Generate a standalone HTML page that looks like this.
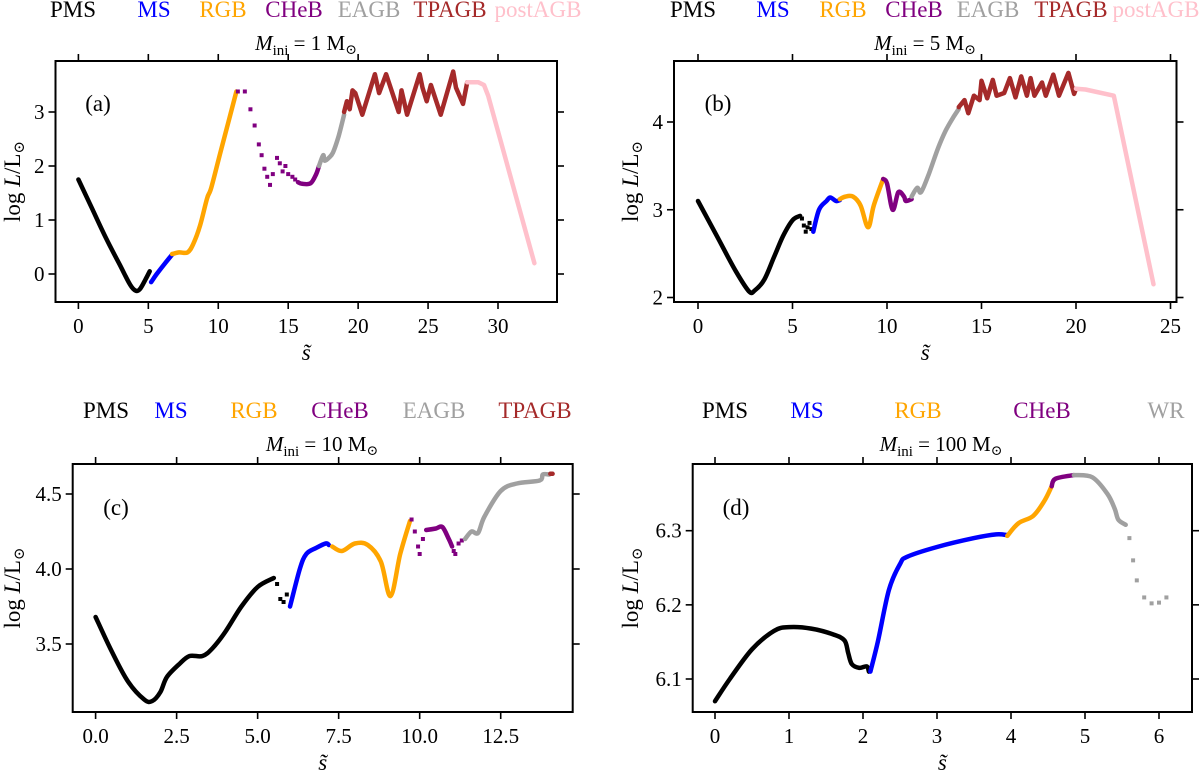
<!DOCTYPE html>
<html><head><meta charset="utf-8"><style>
html,body{margin:0;padding:0;background:#fff;}
svg, svg text{font-family:"Liberation Serif","DejaVu Serif",serif;}
</style></head><body>
<svg id="fig" width="1200" height="772" viewBox="0 0 1200 772" font-family="Liberation Serif, DejaVu Serif, serif" xmlns="http://www.w3.org/2000/svg"></svg>
<script>
// ---------- data ----------
const phaseNamesA = ["PMS","MS","RGB","CHeB","EAGB","TPAGB","postAGB"];
const phaseNamesC = ["PMS","MS","RGB","CHeB","EAGB","TPAGB"];
const phaseNamesD = ["PMS","MS","RGB","CHeB","WR"];
const xTicksA = [0,5,10,15,20,25,30];
const yTicksA = [0,1,2,3];
const xTicksB = [0,5,10,15,20,25];
const yTicksB = [2,3,4];
const xTicksC = [0,2.5,5,7.5,10,12.5];
const xTickLabelsC = ["0.0","2.5","5.0","7.5","10.0","12.5"];
const yTicksC = [3.5,4.0,4.5];
const yTickLabelsC = ["3.5","4.0","4.5"];
const xTicksD = [0,1,2,3,4,5,6];
const yTicksD = [6.1,6.2,6.3];

// panel a segments
const aPMS = [[0,1.75],[1,1.2],[2,0.65],[3,0.15],[3.7,-0.2],[4.1,-0.31],[4.4,-0.28],[4.8,-0.1],[5.1,0.05]];
const aMS = [[5.2,-0.15],[5.6,0.0],[6.2,0.2],[6.7,0.36]];
const aRGB = [[6.7,0.37],[7.2,0.4],[7.8,0.4],[8.2,0.55],[8.7,0.9],[9.2,1.4],[9.5,1.6],[10.2,2.3],[11.3,3.38]];
const aCHeBdots = [[11.4,3.38],[11.9,3.38],[12.3,3.05],[12.6,2.75],[12.9,2.4],[13.1,2.2],[13.3,1.95],[13.5,1.8],[13.7,1.65],[13.9,1.85],[14.2,2.15],[14.4,2.05],[14.6,1.9],[14.8,2.0],[15.0,1.85],[15.3,1.8],[15.5,1.75]];
const aCHeB = [[15.7,1.7],[16.0,1.67],[16.6,1.68],[17.0,1.85],[17.2,2.0]];
const aEAGB = [[17.2,2.0],[17.5,2.2],[17.6,2.1],[17.9,2.15],[18.2,2.25],[18.6,2.55],[19.0,2.95]];
const aTPAGB = [[19.0,3.0],[19.2,3.2],[19.4,3.05],[19.6,3.4],[19.8,3.35],[20.3,2.95],[21.2,3.7],[21.5,3.35],[22.0,3.7],[22.9,3.0],[23.1,3.4],[23.5,2.95],[24.4,3.7],[24.6,3.45],[24.9,3.2],[25.2,3.5],[25.9,2.95],[26.8,3.75],[27.0,3.45],[27.5,3.15],[27.8,3.55]];
const aPost = [[27.8,3.55],[28.6,3.55],[29.0,3.5],[29.3,3.3],[32.6,0.2]];

// panel b
const bPMS = [[0,3.1],[1,2.7],[2,2.3],[2.7,2.07],[3.0,2.08],[3.5,2.2],[4,2.45],[4.5,2.7],[5,2.88],[5.4,2.93]];
const bPMSdots = [[5.5,2.9],[5.6,2.82],[5.7,2.75],[5.8,2.8],[5.9,2.85],[6.0,2.78]];
const bMS = [[6.1,2.75],[6.4,3.0],[6.8,3.1],[7.0,3.14],[7.3,3.1],[7.5,3.11]];
const bRGB = [[7.5,3.12],[7.8,3.15],[8.2,3.15],[8.6,3.05],[9.0,2.8],[9.3,3.05],[9.8,3.35]];
const bCHeB = [[9.8,3.35],[10.0,3.3],[10.3,3.0],[10.6,3.2],[10.9,3.15],[11.0,3.1],[11.3,3.12]];
const bEAGB = [[11.3,3.15],[11.6,3.25],[11.8,3.2],[12.2,3.4],[12.7,3.7],[13.1,3.9],[13.5,4.05],[13.8,4.15]];
const bTPAGB = [[13.8,4.17],[14.1,4.25],[14.3,4.1],[14.6,4.3],[14.9,4.25],[15.0,4.47],[15.3,4.27],[15.6,4.48],[15.8,4.3],[16.2,4.33],[16.5,4.5],[16.8,4.28],[17.1,4.52],[17.4,4.3],[17.6,4.5],[17.8,4.3],[18.2,4.45],[18.4,4.3],[18.8,4.54],[19.1,4.3],[19.6,4.56],[19.9,4.32],[20.0,4.38]];
const bPost = [[20.0,4.38],[20.5,4.37],[22.0,4.3],[24.1,2.15]];

// panel c
const cPMS = [[0,3.68],[0.5,3.45],[1,3.25],[1.5,3.13],[1.75,3.12],[2.0,3.18],[2.2,3.28],[2.6,3.37],[2.9,3.42],[3.3,3.42],[3.6,3.47],[4.0,3.58],[4.5,3.75],[5.0,3.88],[5.5,3.94]];
const cPMSdots = [[5.6,3.9],[5.7,3.8],[5.8,3.78],[5.9,3.83]];
const cMS = [[6.0,3.75],[6.3,4.0],[6.5,4.1],[6.8,4.14],[7.1,4.17],[7.2,4.16]];
const cRGB = [[7.3,4.15],[7.6,4.12],[8.0,4.17],[8.4,4.16],[8.8,4.05],[9.1,3.82],[9.4,4.1],[9.7,4.32]];
const cCHeBdots1 = [[9.75,4.33],[9.85,4.25],[9.95,4.15],[10.0,4.1],[10.1,4.2]];
const cCHeB = [[10.2,4.26],[10.5,4.27],[10.7,4.28],[10.9,4.2],[11.0,4.15]];
const cCHeBdots2 = [[11.05,4.12],[11.1,4.1],[11.2,4.17],[11.3,4.19]];
const cEAGB = [[11.4,4.2],[11.6,4.25],[11.8,4.24],[12.0,4.35],[12.5,4.52],[13.0,4.57],[13.7,4.59],[13.8,4.63],[14.0,4.63]];
const cTPAGB = [[14.03,4.635],[14.1,4.635]];

// panel d
const dPMS = [[0,6.07],[0.2,6.1],[0.5,6.14],[0.8,6.165],[1.0,6.17],[1.3,6.168],[1.6,6.16],[1.75,6.152],[1.8,6.135],[1.85,6.12],[1.95,6.115],[2.05,6.117],[2.08,6.11]];
const dMS = [[2.1,6.11],[2.2,6.15],[2.35,6.22],[2.5,6.255],[2.6,6.265],[3.0,6.278],[3.5,6.29],[3.8,6.295],[3.95,6.294]];
const dRGB = [[3.95,6.293],[4.1,6.31],[4.3,6.32],[4.45,6.34],[4.55,6.36]];
const dCHeB = [[4.55,6.36],[4.6,6.37],[4.85,6.375]];
const dWR = [[4.85,6.375],[5.1,6.372],[5.3,6.35],[5.4,6.33],[5.45,6.315],[5.55,6.308]];
const dWRdots = [[5.6,6.29],[5.65,6.26],[5.7,6.233],[5.8,6.21],[5.9,6.202],[6.0,6.203],[6.1,6.21]];

// ---------- drawing ----------
const NS = "http://www.w3.org/2000/svg";
const svg = document.getElementById("fig");
const FONT = "Liberation Serif, DejaVu Serif, serif";
const COL = {PMS:"#000",MS:"#0000ff",RGB:"#ffa500",CHeB:"#800080",EAGB:"#a0a0a0",WR:"#a0a0a0",TPAGB:"#a52a2a",postAGB:"#ffc0cb"};
function mk(tag, attrs, parent){const e=document.createElementNS(NS,tag);for(const k in attrs)e.setAttribute(k,attrs[k]);(parent||svg).appendChild(e);return e;}
function txt(s, x, y, attrs, parent){const t=mk("text",Object.assign({x:x,y:y,"font-family":FONT},attrs),parent);t.textContent=s;return t;}
function smoothPath(P){
  if(P.length<3) return P.map((p,i)=>(i?"L":"M")+p[0].toFixed(1)+","+p[1].toFixed(1)).join("");
  let d="M"+P[0][0].toFixed(1)+","+P[0][1].toFixed(1);
  for(let i=0;i<P.length-1;i++){
    const p0=P[i-1]||P[i],p1=P[i],p2=P[i+1],p3=P[i+2]||p2;
    const c1=[p1[0]+(p2[0]-p0[0])/6,p1[1]+(p2[1]-p0[1])/6];
    const c2=[p2[0]-(p3[0]-p1[0])/6,p2[1]-(p3[1]-p1[1])/6];
    d+="C"+c1[0].toFixed(1)+","+c1[1].toFixed(1)+" "+c2[0].toFixed(1)+","+c2[1].toFixed(1)+" "+p2[0].toFixed(1)+","+p2[1].toFixed(1);
  }
  return d;
}

function panel(cfg){
  const g=mk("g",{"font-family":FONT});
  
  
  const sx=v=>cfg.px0+(v-cfg.x0)*(cfg.px1-cfg.px0)/(cfg.x1-cfg.x0);
  const sy=v=>cfg.py0+(v-cfg.y0)*(cfg.py1-cfg.py0)/(cfg.y1-cfg.y0);
  const b=cfg.box;
  cfg.phases.forEach((p,i)=>{
    const t=txt(p,cfg.legX[i],cfg.legY,{"font-size":"23","text-anchor":"middle",fill:COL[p]},g);
    
    
  });
  const tt=mk("text",{x:cfg.titleX,y:cfg.titleY,"font-size":"21","text-anchor":"middle","font-family":FONT},g);
  
  
  tt.innerHTML='<tspan font-style="italic">M</tspan><tspan font-size="15" dy="5">ini</tspan><tspan dy="-5"> = '+cfg.mass+' M</tspan><tspan font-size="14" dy="4">⊙</tspan>';
  cfg.series.forEach(s=>{
    if(s.dots){
      s.pts.forEach(pt=>{
        const r=mk("rect",{x:sx(pt[0])-2,y:sy(pt[1])-2,width:4,height:4,fill:COL[s.ph]},g);
        
        
      });
    } else {
      const P=s.pts.map(pt=>[sx(pt[0]),sy(pt[1])]);
      const d=s.sharp?P.map((p,i)=>(i?"L":"M")+p[0].toFixed(1)+","+p[1].toFixed(1)).join(""):smoothPath(P);
      const p=mk("path",{d:d,fill:"none",stroke:COL[s.ph],"stroke-width":4.5,"stroke-linejoin":"round","stroke-linecap":"round"},g);
      
      
    }
  });
  const fr=mk("rect",{x:b[0],y:b[1],width:b[2]-b[0],height:b[3]-b[1],fill:"none",stroke:"#000","stroke-width":2},g);
  
  
  cfg.xt.forEach((v,i)=>{
    const X=sx(v);
    mk("line",{x1:X,x2:X,y1:b[3],y2:b[3]+7,stroke:"#000","stroke-width":1.6},g);
    mk("line",{x1:X,x2:X,y1:b[1],y2:b[1]-7,stroke:"#000","stroke-width":1.6},g);
    const t=txt(cfg.xtl?cfg.xtl[i]:String(v),X,b[3]+31,{"font-size":"21","text-anchor":"middle"},g);
    
    
  });
  cfg.yt.forEach((v,i)=>{
    const Y=sy(v);
    mk("line",{x1:b[0],x2:b[0]-7,y1:Y,y2:Y,stroke:"#000","stroke-width":1.6},g);
    mk("line",{x1:b[2],x2:b[2]+7,y1:Y,y2:Y,stroke:"#000","stroke-width":1.6},g);
    const t=txt(cfg.ytl?cfg.ytl[i]:String(v),b[0]-11,Y+7,{"font-size":"21","text-anchor":"end"},g);
    
    
  });
  const xl=txt("s̃",(b[0]+b[2])/2,b[3]+58,{"font-size":"23","font-style":"italic","text-anchor":"middle"},g);
  
  
  const yl=mk("text",{x:0,y:0,"font-size":"23","text-anchor":"middle","font-family":FONT,transform:"translate("+(cfg.ylX)+","+((b[1]+b[3])/2)+") rotate(-90)"},g);
  yl.innerHTML='log <tspan font-style="italic">L</tspan>/L<tspan font-size="15" dy="4">⊙</tspan>';
  
  
  const pl=txt(cfg.tag,cfg.tagX,cfg.tagY,{"font-size":"23","text-anchor":"middle"},g);
  
  
}

panel({name:"panel-a",box:[55.5,61,557,302],x0:0,x1:30,px0:78.4,px1:498,y0:0,y1:3,py0:274,py1:112,
  xt:xTicksA,yt:yTicksA,phases:phaseNamesA,legX:[73,154,223,294,369,450,538],legY:17,
  titleX:306,titleY:50,mass:"1",ylX:20,tag:"(a)",tagX:98,tagY:111,
  series:[{ph:"PMS",pts:aPMS},{ph:"MS",pts:aMS},{ph:"RGB",pts:aRGB},{ph:"CHeB",pts:aCHeBdots,dots:true},{ph:"CHeB",pts:aCHeB},{ph:"EAGB",pts:aEAGB},{ph:"TPAGB",pts:aTPAGB,sharp:true},{ph:"postAGB",pts:aPost,sharp:true}]});
panel({name:"panel-b",box:[674,61,1176.5,302],x0:0,x1:25,px0:698,px1:1170.5,y0:2,y1:4,py0:297.5,py1:122,
  xt:xTicksB,yt:yTicksB,phases:phaseNamesA,legX:[693,773,843,914,988,1071,1156],legY:17,
  titleX:925,titleY:50,mass:"5",ylX:638,tag:"(b)",tagX:718,tagY:111,
  series:[{ph:"PMS",pts:bPMS},{ph:"PMS",pts:bPMSdots,dots:true},{ph:"MS",pts:bMS},{ph:"RGB",pts:bRGB},{ph:"CHeB",pts:bCHeB},{ph:"EAGB",pts:bEAGB},{ph:"TPAGB",pts:bTPAGB,sharp:true},{ph:"postAGB",pts:bPost,sharp:true}]});
panel({name:"panel-c",box:[72.7,464,572.7,712],x0:0,x1:12.5,px0:95.6,px1:500.7,y0:3.5,y1:4.5,py0:644,py1:494,
  xt:xTicksC,xtl:xTickLabelsC,yt:yTicksC,ytl:yTickLabelsC,phases:phaseNamesC,legX:[106,171,254,340,434,535],legY:418,
  titleX:322,titleY:451,mass:"10",ylX:20,tag:"(c)",tagX:116,tagY:515,
  series:[{ph:"PMS",pts:cPMS},{ph:"PMS",pts:cPMSdots,dots:true},{ph:"MS",pts:cMS},{ph:"RGB",pts:cRGB},{ph:"CHeB",pts:cCHeBdots1,dots:true},{ph:"CHeB",pts:cCHeB},{ph:"CHeB",pts:cCHeBdots2,dots:true},{ph:"EAGB",pts:cEAGB},{ph:"TPAGB",pts:cTPAGB}]});
panel({name:"panel-d",box:[692.7,464,1192,712],x0:0,x1:6,px0:715,px1:1159,y0:6.1,y1:6.3,py0:679,py1:530.7,
  xt:xTicksD,yt:yTicksD,phases:phaseNamesD,legX:[725,807,918,1042,1166],legY:418,
  titleX:941,titleY:451,mass:"100",ylX:638,tag:"(d)",tagX:736,tagY:515,
  series:[{ph:"PMS",pts:dPMS},{ph:"MS",pts:dMS},{ph:"RGB",pts:dRGB},{ph:"CHeB",pts:dCHeB},{ph:"WR",pts:dWR},{ph:"WR",pts:dWRdots,dots:true}]});
</script>
</body></html>
